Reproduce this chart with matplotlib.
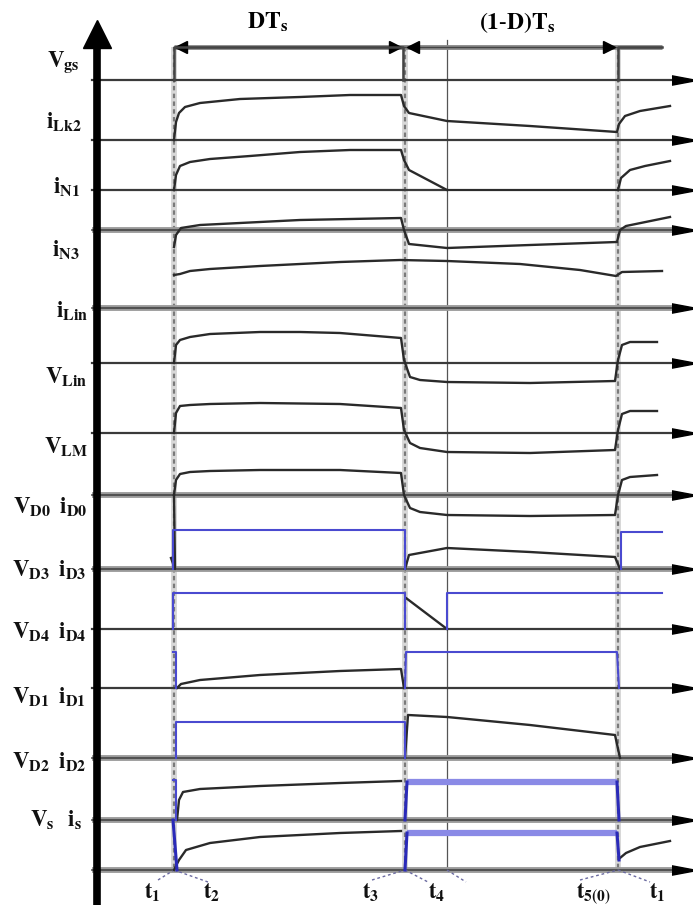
import numpy as np
import matplotlib.pyplot as plt

plt.rcParams['mathtext.fontset'] = 'stix'
plt.rcParams['font.family'] = 'Liberation Serif'

# switching instants (x, pixel-like time units)
t1 = 174
t3 = 405
t4 = 447
t5 = 618
t_end = 662

# baselines of the traces (y, from top)
base_y = [80, 140, 190, 230, 308, 363, 433, 495, 569, 629, 688, 758, 820, 870]
base_thick = [False, False, False, True, True, False, False, True, True, False, False, True, True, True]

labels = [r'$\mathbf{V}_{\mathbf{gs}}$', r'$\mathbf{i}_{\mathbf{Lk2}}$', r'$\mathbf{i}_{\mathbf{N1}}$',
          r'$\mathbf{i}_{\mathbf{N3}}$', r'$\mathbf{i}_{\mathbf{Lin}}$', r'$\mathbf{V}_{\mathbf{Lin}}$',
          r'$\mathbf{V}_{\mathbf{LM}}$', r'$\mathbf{V}_{\mathbf{D0}}\;\;\mathbf{i}_{\mathbf{D0}}$',
          r'$\mathbf{V}_{\mathbf{D3}}\;\;\mathbf{i}_{\mathbf{D3}}$', r'$\mathbf{V}_{\mathbf{D4}}\;\;\mathbf{i}_{\mathbf{D4}}$',
          r'$\mathbf{V}_{\mathbf{D1}}\;\;\mathbf{i}_{\mathbf{D1}}$', r'$\mathbf{V}_{\mathbf{D2}}\;\;\mathbf{i}_{\mathbf{D2}}$',
          r'$\mathbf{V}_{\mathbf{s}}\;\;\;\mathbf{i}_{\mathbf{s}}$']
label_y = [67, 128, 193, 256, 317, 383, 453, 513, 576, 638, 703, 768, 826]
label_x = [80, 82, 80, 80, 88, 88, 88, 88, 86, 86, 86, 86, 82]

# black waveforms (x list, y list)
vgs_x = [[t1, t1, 403, 403], [t5, t5, t_end]]
vgs_y = [[80, 47, 47, 80], [80, 47, 47]]

ilk2_x = [174, 176, 179, 185, 200, 240, 300, 350, 401, 404, 409, 447, 530, 617, 619, 625, 640, 670]
ilk2_y = [140, 122, 113, 107, 103, 99, 97, 95, 95, 106, 113, 121, 126, 132, 124, 116, 111, 106]
in1_x = [174, 176, 180, 190, 210, 250, 300, 350, 401, 404, 409, 447]
in1_y = [190, 175, 166, 162, 159, 156, 152, 150, 150, 160, 170, 190]
in1b_x = [618, 621, 630, 645, 670]
in1b_y = [190, 178, 170, 166, 161]
in3_x = [174, 176, 181, 200, 300, 401, 404, 409, 447, 530, 617, 620, 626, 670]
in3_y = [247, 235, 228, 225, 220, 218, 230, 244, 248, 245, 242, 230, 226, 217]
ilin_x = [174, 180, 190, 210, 260, 340, 400, 447, 520, 580, 616, 622, 662]
ilin_y = [275, 274, 271, 269, 266, 262, 260, 261, 264, 270, 276, 272, 271]
vlin_x = [174, 176, 180, 190, 210, 260, 300, 340, 401, 404, 410, 420, 447, 530, 615, 618, 622, 630, 657]
vlin_y = [363, 345, 340, 337, 334, 332, 332, 333, 338, 360, 377, 380, 382, 383, 381, 360, 345, 342, 342]
vlm_x = [174, 176, 180, 190, 210, 260, 340, 401, 404, 410, 420, 447, 530, 615, 618, 622, 630, 657]
vlm_y = [433, 413, 406, 405, 404, 403, 404, 408, 430, 443, 448, 452, 453, 450, 430, 414, 411, 411]
vd0_x = [174, 176, 180, 190, 210, 260, 340, 401, 404, 410, 420, 447, 530, 615, 618, 622, 630, 657]
vd0_y = [495, 480, 474, 472, 471, 470, 470, 473, 495, 508, 512, 515, 516, 515, 495, 480, 477, 475]
id3_x = [405, 409, 447, 530, 615, 620]
id3_y = [569, 555, 548, 552, 557, 569]
id3b_x = [171, 175, 174]
id3b_y = [558, 569, 495]
id4_x = [406, 447]
id4_y = [598, 629]
id1_x = [177, 181, 200, 260, 340, 401, 404]
id1_y = [688, 684, 680, 675, 671, 669, 688]
id2_x = [405, 408, 447, 530, 615, 620]
id2_y = [758, 715, 717, 725, 735, 758]
vs_x = [177, 179, 183, 200, 260, 340, 401]
vs_y = [820, 800, 792, 789, 786, 783, 781]
bot_x = [174, 179, 186, 210, 260, 340, 401]
bot_y = [870, 860, 850, 843, 837, 833, 831]
botb_x = [620, 626, 640, 670]
botb_y = [858, 853, 847, 841]

black_traces = [(ilk2_x, ilk2_y), (in1_x, in1_y), (in1b_x, in1b_y), (in3_x, in3_y),
                (ilin_x, ilin_y), (vlin_x, vlin_y), (vlm_x, vlm_y), (vd0_x, vd0_y),
                (id3_x, id3_y), (id3b_x, id3b_y), (id4_x, id4_y), (id1_x, id1_y), (id2_x, id2_y),
                (vs_x, vs_y), (bot_x, bot_y), (botb_x, botb_y)]

# blue waveforms (thin)
blue_thin = [
    ([173, 173, 405, 405], [569, 530, 530, 569]),
    ([621, 621, t_end], [569, 532, 532]),
    ([173, 173, 405, 405], [629, 593, 593, 629]),
    ([t4, t4, t_end], [629, 593, 593]),
    ([173, 176, 176], [652, 652, 688]),
    ([405, 406, 617, 619], [688, 652, 652, 688]),
    ([176, 176, 405, 405], [758, 722, 722, 758]),
    ([173, 176, 176], [780, 780, 820]),
]
# blue waveforms (thick)
blue_thick = [
    ([407, 617], [782, 782]),
    ([407, 617], [833, 833]),
]
blue_edges = [
    ([405, 407], [820, 782]), ([617, 619], [782, 820]),
    ([405, 407], [870, 833]), ([617, 619], [833, 860]),
    ([173, 177], [820, 870]),
]

bands = [t1, t3, t5]

bottom_labels = [r'$\mathbf{t}_{\mathbf{1}}$', r'$\mathbf{t}_{\mathbf{2}}$', r'$\mathbf{t}_{\mathbf{3}}$',
                 r'$\mathbf{t}_{\mathbf{4}}$', r'$\mathbf{t}_{\mathbf{5(0)}}$', r'$\mathbf{t}_{\mathbf{1}}$']
bottom_x = [152, 212, 371, 437, 593, 657]
bottom_y = [898, 898, 898, 898, 898, 898]
leader_from = [(158, 880), (t1, 870), (372, 880), (t3, 870), (t4, 870), (580, 880), (t5, 870)]
leader_to = [(t1, 870), (208, 882), (t3, 870), (428, 882), (466, 882), (t5, 870), (650, 882)]

fig = plt.figure(figsize=(6.93, 9.13), dpi=100)
ax = fig.add_axes([0, 0, 1, 1])
ax.set_xlim(0, 693)
ax.set_ylim(913, 0)
ax.axis('off')

# gray switching bands
for b in bands:
    ax.fill_betweenx([47, 870], b - 3, b + 3, color='#d8d8d8', lw=0, zorder=1)
    ax.plot([b, b], [47, 870], color='#7a7a7a', lw=1.6, ls=(0, (2, 1.5)), zorder=2)
ax.plot([t4, t4], [40, 870], color='#555555', lw=0.9, zorder=2)

# baselines with arrows
for y, thick in zip(base_y, base_thick):
    if thick:
        ax.plot([92, 680], [y, y], color='#9a9a9a', lw=4.2, zorder=3, solid_capstyle='butt')
        ax.plot([92, 680], [y, y], color='#444444', lw=1.2, zorder=3)
    else:
        ax.plot([92, 680], [y, y], color='#3a3a3a', lw=1.6, zorder=3)
    ax.plot([684], [y], marker=[(-1.6, -0.6), (1.6, 0), (-1.6, 0.6)], ms=18, color='black', zorder=4)

# top dimension line
ax.plot([t1, t_end], [47, 47], color='#8a8a8a', lw=3.5, zorder=3, solid_capstyle='butt')
ax.plot([t1, t_end], [47, 47], color='#444444', lw=1.0, zorder=3)
for xm, mk in zip([181, 395, 413, 609], ['<', '>', '<', '>']):
    ax.plot([xm], [47], marker=mk, ms=8, color='black', zorder=5)
ax.text(268, 29, r'$\mathbf{DT}_{\mathbf{s}}$', fontsize=17, ha='center', va='baseline')
ax.text(517, 29, r'$\mathbf{(1\text{-}D)T}_{\mathbf{s}}$', fontsize=17, ha='center', va='baseline')

# Vgs
for xs, ys in zip(vgs_x, vgs_y):
    ax.plot(xs, ys, color='#444444', lw=1.8, zorder=6)

# black traces
for xs, ys in black_traces:
    ax.plot(xs, ys, color='#2a2a2a', lw=1.7, zorder=6, solid_joinstyle='round')
ax.plot(in1_x[-1:] + [t5], [190, 190], color='#2a2a2a', lw=1.2, zorder=6)

# blue traces
for xs, ys in blue_thin:
    ax.plot(xs, ys, color='#4a4ad0', lw=1.5, zorder=7)
for xs, ys in blue_thick:
    ax.plot(xs, ys, color='#8a8ae6', lw=4.5, zorder=7, solid_capstyle='butt')
for xs, ys in blue_edges:
    ax.plot(xs, ys, color='#2a2ab8', lw=2.2, zorder=7)

# vertical axis
ax.plot([97, 97], [905, 40], color='black', lw=5.5, zorder=8, solid_capstyle='butt')
ax.plot([97], [34], marker='^', ms=20, color='black', zorder=8)

# labels
for txt, x, y in zip(labels, label_x, label_y):
    ax.text(x, y, txt, fontsize=16.5, ha='right', va='baseline', color='#111111')

for txt, x, y in zip(bottom_labels, bottom_x, bottom_y):
    ax.text(x, y, txt, fontsize=16, ha='center', va='baseline', color='#111111')
for (xa, ya), (xb, yb) in zip(leader_from, leader_to):
    ax.plot([xa, xb], [ya, yb], color='#6a6aa0', lw=1.0, ls=(0, (2, 2)), zorder=5)

fig.savefig('out.png', dpi=100)
